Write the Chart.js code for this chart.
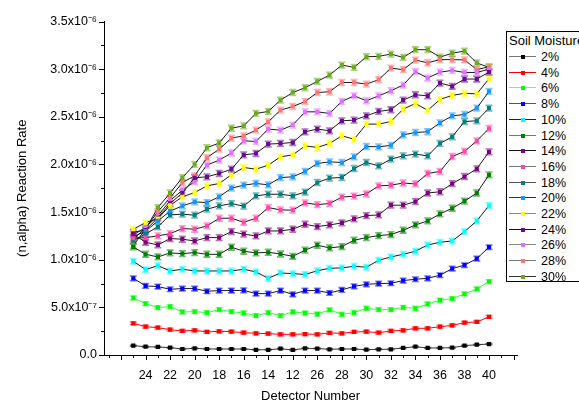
<!DOCTYPE html>
<html><head><meta charset="utf-8">
<script src="https://cdn.jsdelivr.net/npm/chart.js@4/dist/chart.umd.min.js"></script>
<style>
html,body{margin:0;padding:0;background:#fff;overflow:hidden;width:579px;height:404px}
#wrap{position:relative;width:579px;height:404px;overflow:hidden}
#c{position:absolute;left:0;top:0}
#legend{position:absolute;left:506px;top:31px;width:95px;height:251px;border:1px solid #000;background:#fff;font-family:Arial,"Liberation Sans",sans-serif;font-size:12.5px;color:#000;box-sizing:border-box}
#legend .ttl{position:absolute;left:2px;top:1px;white-space:nowrap;line-height:16px;font-size:13px}
#legend .it{position:absolute;left:0;height:16px;width:95px}
#legend .ln{position:absolute;left:2px;width:27px;top:7px;height:0;border-top:1.5px solid #555}
#legend .mk{position:absolute;left:14px;top:6px;width:4px;height:4px}
#legend .tx{position:absolute;left:34px;top:0;line-height:16px}
</style></head>
<body><div id="wrap"><canvas id="c" width="579" height="404"></canvas><div id="legend"></div></div>
<script>
// Detector numbers along the x axis (every other one is labelled)
const detectorLabels = ['25','24','23','22','21','20','19','18','17','16','15','14','13','12','25',
  '26','27','28','29','30','31','32','33','34','35','36','37','38','39','40'];
const moistureLevels = ['2%','4%','6%','8%','10%','12%','14%','16%','18%','20%','22%','24%','26%','28%','30%'];
const yTickLabels = ['0.0','5.0x10\u207B\u2077','1.0x10\u207B\u2076','1.5x10\u207B\u2076','2.0x10\u207B\u2076','2.5x10\u207B\u2076','3.0x10\u207B\u2076','3.5x10\u207B\u2076'];

// (n,alpha) reaction rates, in units of 1e-6
const rate2  = [0.098,0.087,0.084,0.077,0.063,0.070,0.063,0.063,0.063,0.063,0.055,0.055,0.066,0.053,0.070,0.068,0.060,0.063,0.063,0.056,0.060,0.060,0.074,0.087,0.074,0.074,0.077,0.098,0.108,0.115];
const rate4  = [0.333,0.297,0.287,0.266,0.252,0.259,0.242,0.249,0.245,0.234,0.228,0.224,0.217,0.217,0.220,0.217,0.231,0.228,0.242,0.245,0.234,0.252,0.259,0.280,0.280,0.297,0.310,0.340,0.347,0.400];
const rate6  = [0.599,0.539,0.497,0.508,0.452,0.455,0.445,0.476,0.455,0.441,0.413,0.445,0.413,0.452,0.440,0.430,0.473,0.427,0.445,0.490,0.476,0.476,0.500,0.490,0.536,0.575,0.592,0.641,0.693,0.770];
const rate8  = [0.805,0.725,0.718,0.690,0.697,0.697,0.669,0.676,0.676,0.679,0.644,0.644,0.676,0.637,0.676,0.676,0.651,0.683,0.721,0.742,0.749,0.753,0.781,0.795,0.805,0.837,0.907,0.942,1.012,1.131];
const rate10 = [0.984,0.896,0.938,0.882,0.900,0.882,0.882,0.882,0.882,0.900,0.872,0.805,0.861,0.854,0.845,0.884,0.910,0.914,0.931,0.921,0.994,1.029,1.057,1.089,1.155,1.183,1.197,1.295,1.407,1.568];
const rate12 = [1.134,1.057,1.029,1.071,1.064,1.075,1.057,1.057,1.131,1.089,1.071,1.078,1.060,1.036,1.100,1.152,1.124,1.138,1.204,1.232,1.253,1.264,1.309,1.365,1.407,1.481,1.540,1.614,1.700,1.891];
const rate14 = [1.268,1.183,1.155,1.222,1.215,1.197,1.232,1.232,1.295,1.268,1.250,1.302,1.302,1.320,1.372,1.348,1.365,1.386,1.428,1.463,1.470,1.572,1.572,1.610,1.700,1.713,1.798,1.873,1.954,2.132];
const rate16 = [1.226,1.232,1.250,1.274,1.327,1.320,1.355,1.435,1.435,1.393,1.435,1.547,1.523,1.520,1.597,1.578,1.590,1.657,1.667,1.690,1.775,1.782,1.805,1.795,1.905,1.926,2.083,2.136,2.248,2.377];
const rate18 = [1.200,1.270,1.345,1.470,1.478,1.467,1.530,1.565,1.589,1.562,1.670,1.687,1.687,1.670,1.710,1.810,1.856,1.863,1.957,2.020,1.985,2.055,2.090,2.108,2.090,2.220,2.290,2.450,2.458,2.591];
const rate20 = [1.240,1.300,1.407,1.510,1.565,1.607,1.600,1.660,1.751,1.782,1.800,1.786,1.862,1.870,1.926,2.010,2.027,2.020,2.080,2.188,2.185,2.200,2.311,2.335,2.343,2.437,2.510,2.524,2.591,2.766];
const rate22 = [1.320,1.390,1.430,1.570,1.660,1.705,1.775,1.800,1.891,1.968,1.950,1.992,2.080,2.100,2.195,2.178,2.220,2.300,2.265,2.423,2.423,2.450,2.580,2.640,2.567,2.683,2.724,2.747,2.740,2.900];
const rate24 = [1.290,1.310,1.440,1.590,1.700,1.860,1.870,1.905,1.950,2.100,2.115,2.213,2.220,2.230,2.342,2.371,2.353,2.458,2.465,2.510,2.556,2.574,2.675,2.731,2.720,2.854,2.820,2.896,2.896,2.970];
const rate26 = [1.260,1.340,1.460,1.620,1.730,1.820,1.993,2.045,2.120,2.248,2.241,2.371,2.360,2.413,2.552,2.552,2.535,2.661,2.720,2.668,2.720,2.773,2.833,2.973,2.907,2.968,2.987,2.965,2.965,3.000];
const rate28 = [1.220,1.330,1.505,1.650,1.810,1.880,2.070,2.160,2.276,2.300,2.360,2.447,2.570,2.608,2.660,2.755,2.763,2.860,2.860,2.843,2.889,3.011,2.994,3.095,3.067,3.100,3.100,3.097,2.995,3.025];
const rate30 = [1.150,1.320,1.547,1.700,1.862,2.000,2.175,2.225,2.380,2.405,2.535,2.556,2.675,2.755,2.805,2.871,2.938,3.043,3.018,3.130,3.134,3.158,3.123,3.204,3.204,3.127,3.167,3.190,3.065,3.018];
// Half-size of the error bars of each series (units of 1e-6)
const errorHalf = [0.005,0.014,0.020,0.024,0.028,0.030,0.030,0.030,0.030,0.030,0.030,0.030,0.030,0.030,0.030];

const allRates = [rate2,rate4,rate6,rate8,rate10,rate12,rate14,rate16,rate18,rate20,rate22,rate24,rate26,rate28,rate30];
const markerColors = ['#000000','#ff0000','#00ff00','#0000ff','#00ffff','#008000','#800080','#ff45a8','#008080','#1497ff','#ffff00','#6a0a8c','#e070ff','#ff7474','#6aaa1e'];
const lineColors = ['#333333','#ff0000','#33ff33','#1a1a1a','#1a1a1a','#1a1a1a','#1a1a1a','#1a1a1a','#1a1a1a','#1a1a1a','#1a1a1a','#1a1a1a','#1a1a1a','#1a1a1a','#1a1a1a'];
const legendLineColors = ['#777','#ff0000','#66ff66','#555','#222','#777','#111','#777','#555','#333','#888','#111','#888','#777','#333'];

const FONT = 'Arial, "Liberation Sans", sans-serif';

function hexA(hex, a){
  const n = parseInt(hex.slice(1),16);
  return 'rgba(' + ((n>>16)&255) + ',' + ((n>>8)&255) + ',' + (n&255) + ',' + a + ')';
}

const errorBarPlugin = {
  id: 'errorBars',
  beforeDatasetsDraw(chart){
    const ctx = chart.ctx, ys = chart.scales.y;
    chart.data.datasets.forEach((ds, d) => {
      const meta = chart.getDatasetMeta(d);
      const e = errorHalf[d];
      ctx.save();
      ctx.strokeStyle = hexA(markerColors[d], 0.55);
      ctx.lineWidth = 1.6;
      meta.data.forEach((pt, i) => {
        const v = ds.data[i].y;
        const t = ys.getPixelForValue(v + e), b = ys.getPixelForValue(v - e);
        ctx.beginPath();
        ctx.moveTo(pt.x, t); ctx.lineTo(pt.x, b);
        ctx.moveTo(pt.x - 3.5, t); ctx.lineTo(pt.x + 3.5, t);
        ctx.moveTo(pt.x - 3.5, b); ctx.lineTo(pt.x + 3.5, b);
        ctx.stroke();
      });
      ctx.restore();
    });
  }
};

const tickMarkPlugin = {
  id: 'tickMarks',
  afterDraw(chart){
    const ctx = chart.ctx, xs = chart.scales.x, ys = chart.scales.y;
    const ca = chart.chartArea;
    ctx.save();
    ctx.strokeStyle = '#000';
    ctx.lineWidth = 1;
    ctx.beginPath();
    for (let i = -2; i <= 31; i++) {
      const px = Math.round(xs.getPixelForValue(i)) + 0.5;
      const len = (Math.abs(i) % 2 === 1) ? 5 : 3;
      ctx.moveTo(px, ca.bottom); ctx.lineTo(px, ca.bottom + len);
    }
    for (let k = 0; k <= 14; k++) {
      const py = Math.round(ys.getPixelForValue(k * 0.25)) + 0.5;
      const len = (k % 2 === 0) ? 5 : 3;
      ctx.moveTo(ca.left, py); ctx.lineTo(ca.left - len, py);
    }
    ctx.stroke();
    ctx.restore();
  }
};

const datasets = allRates.map((arr, d) => ({
  label: moistureLevels[d],
  data: arr.map((v, i) => ({x: i, y: v})),
  borderColor: lineColors[d],
  borderWidth: 1,
  backgroundColor: markerColors[d],
  pointStyle: 'rect',
  pointRadius: 3,
  pointBorderWidth: 0,
  pointBackgroundColor: markerColors[d],
  pointBorderColor: markerColors[d],
  tension: 0,
  fill: false
}));

new Chart(document.getElementById('c'), {
  type: 'line',
  data: { datasets },
  plugins: [errorBarPlugin, tickMarkPlugin],
  options: {
    responsive: false,
    animation: false,
    devicePixelRatio: 1,
    layout: { padding: { left: 0, right: 62, top: 21.5, bottom: 0 } },
    plugins: { legend: { display: false }, tooltip: { enabled: false } },
    scales: {
      x: {
        type: 'linear',
        min: -2.39, max: 31.28,
        afterBuildTicks(scale){
          const t = [];
          for (let i = 1; i < detectorLabels.length; i += 2) t.push({value: i});
          scale.ticks = t;
        },
        afterFit(scale){ scale.height = 49; },
        grid: { display: false, drawTicks: false },
        border: { display: true, color: '#000', width: 1 },
        ticks: {
          autoSkip: false, maxRotation: 0, padding: 13,
          color: '#000', font: { family: FONT, size: 12.5 },
          callback: (v) => detectorLabels[v]
        },
        title: { display: true, text: 'Detector Number', color: '#000',
          font: { family: FONT, size: 13 }, padding: { top: 0, bottom: 0 } }
      },
      y: {
        type: 'linear',
        min: 0, max: 3.5,
        afterBuildTicks(scale){
          scale.ticks = yTickLabels.map((s, k) => ({value: k * 0.5}));
        },
        afterFit(scale){ scale.width = 104; },
        grid: { display: false, drawTicks: false },
        border: { display: true, color: '#000', width: 1 },
        ticks: {
          padding: 7, color: '#000', font: { family: FONT, size: 12.5 },
          callback: (v) => yTickLabels[Math.round(v / 0.5)]
        },
        title: { display: true, text: '(n,alpha) Reaction Rate', color: '#000',
          font: { family: FONT, size: 13 }, padding: { top: 15, bottom: 0 } }
      }
    }
  }
});

// HTML legend built from the series names and colours
const lg = document.getElementById('legend');
const ttl = document.createElement('div');
ttl.className = 'ttl'; ttl.textContent = 'Soil Moisture';
lg.appendChild(ttl);
moistureLevels.forEach((name, d) => {
  const it = document.createElement('div');
  it.className = 'it';
  it.style.top = (17 + d * 15.7) + 'px';
  const ln = document.createElement('div'); ln.className = 'ln'; ln.style.borderTopColor = legendLineColors[d];
  const mk = document.createElement('div'); mk.className = 'mk'; mk.style.background = markerColors[d];
  const tx = document.createElement('div'); tx.className = 'tx'; tx.textContent = name;
  it.appendChild(ln); it.appendChild(mk); it.appendChild(tx);
  lg.appendChild(it);
});
</script>
</body></html>
